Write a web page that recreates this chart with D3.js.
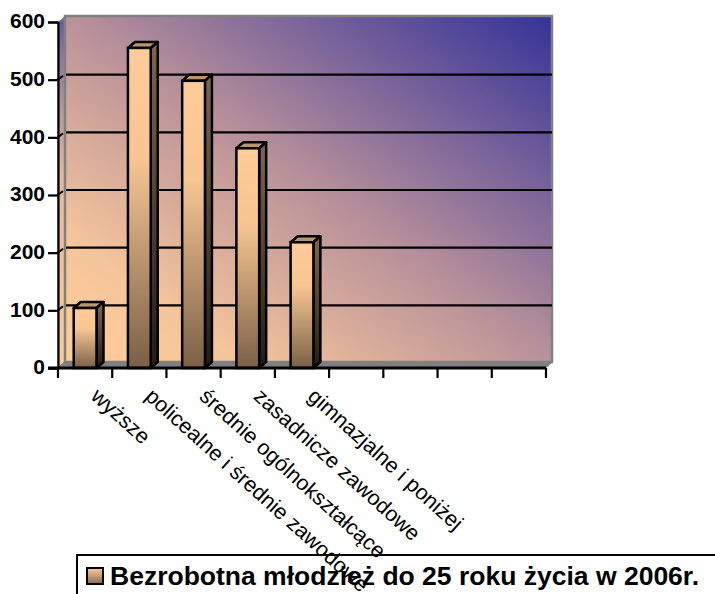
<!DOCTYPE html>
<html>
<head>
<meta charset="utf-8">
<script src="https://cdn.jsdelivr.net/npm/d3@7/dist/d3.min.js"></script>
<style>
	html, body { margin: 0; padding: 0; background: #fff; overflow: hidden; }
	text { font-family: "Liberation Sans", Arial, sans-serif; fill: #000; }
</style>
</head>
<body>
<script>
var categories = ['wyższe', 'policealne i średnie zawodowe', 'średnie ogólnokształcące',
	'zasadnicze zawodowe', 'gimnazjalne i poniżej', '', '', '', ''];
var values = [104, 555, 498, 381, 218];
var yTicks = [0, 100, 200, 300, 400, 500, 600];
var seriesName = 'Bezrobotna młodzież do 25 roku życia w 2006r.';

var width = 715,
	height = 594,
	depthX = 7,
	depthY = 6;

var x = d3.scaleBand().domain(d3.range(categories.length)).range([58, 546]).paddingInner(0.58).paddingOuter(0.29);
var step = (546 - 58) / categories.length;
var y = d3.scaleLinear().domain([0, 600]).range([368, 22]);

var svg = d3.select('body').append('svg')
	.attr('width', width)
	.attr('height', height);

var defs = svg.append('defs');

function gradient(id, x1, y1, x2, y2, stops) {
	var g = defs.append('linearGradient')
		.attr('id', id)
		.attr('x1', x1).attr('y1', y1)
		.attr('x2', x2).attr('y2', y2);
	stops.forEach(function (s) {
		g.append('stop').attr('offset', s[0]).attr('stop-color', s[1]);
	});
}

gradient('wall', 0, 1, 1, 0, [[0, '#ffcc99'], [0.18, '#f5c59b'], [0.5, '#b9929a'], [0.75, '#76619a'], [1, '#333399']]);
gradient('leftWall', 0, 1, 0, 0, [[0, '#ffcc99'], [0.55, '#e8b898'], [0.85, '#9a7f9b'], [1, '#6a5aa0']]);
gradient('barFront', 0, 0, 0, 1, [[0, '#ffcc99'], [0.35, '#f6c592'], [1, '#7a6047']]);
gradient('barSide', 0, 0, 0, 1, [[0, '#7f6650'], [1, '#241c14']]);
gradient('legendKey', 0, 0, 0, 1, [[0, '#ffcc99'], [1, '#8a6c50']]);

function pts(a) {
	return a.map(function (p) { return p.join(','); }).join(' ');
}

var x0 = 58, x1 = 546, yBase = y(0), yTop = y(600);

// back wall and side wall
svg.append('polygon')
	.attr('points', pts([[x0, yBase], [x0 + depthX, yBase - depthY], [x0 + depthX, yTop - depthY + 1], [x0, yTop + 1]]))
	.attr('fill', 'url(#leftWall)')
	.attr('stroke', '#808080')
	.attr('stroke-width', 1.5);

svg.append('rect')
	.attr('x', x0 + depthX)
	.attr('y', yTop - depthY)
	.attr('width', x1 - x0 - 1)
	.attr('height', yBase - yTop)
	.attr('fill', 'url(#wall)')
	.attr('stroke', '#808080')
	.attr('stroke-width', 2.5);

// floor
svg.append('polygon')
	.attr('points', pts([[x0, yBase], [x0 + depthX, yBase - depthY], [x1 + depthX, yBase - depthY], [x1, yBase]]))
	.attr('fill', '#808080');

// gridlines on the wall, with the short slant on the side wall
var grid = svg.append('g');
grid.selectAll('line.wall')
	.data(yTicks.slice(1, 6))
	.enter().append('line')
	.attr('class', 'wall')
	.attr('x1', x0 + depthX + 1)
	.attr('x2', x1 + depthX - 1)
	.attr('y1', function (d) { return y(d) - depthY + 1; })
	.attr('y2', function (d) { return y(d) - depthY + 1; })
	.attr('stroke', '#000')
	.attr('stroke-width', 2.2);

grid.selectAll('line.slant')
	.data(yTicks.slice(1, 6))
	.enter().append('line')
	.attr('class', 'slant')
	.attr('x1', x0)
	.attr('x2', x0 + depthX - 2)
	.attr('y1', function (d) { return y(d); })
	.attr('y2', function (d) { return y(d) - depthY + 2; })
	.attr('stroke', '#000')
	.attr('stroke-width', 2);

// bars
var bars = svg.append('g').selectAll('g')
	.data(values)
	.enter().append('g');

bars.append('polygon')
	.attr('points', function (d, i) {
		var l = x(i), r = l + x.bandwidth(), t = y(d);
		return pts([[l, t], [l + depthX, t - depthY], [r + depthX, t - depthY], [r, t]]);
	})
	.attr('fill', '#b8956c')
	.attr('stroke', '#000')
	.attr('stroke-width', 2.5)
	.attr('stroke-linejoin', 'round');

bars.append('polygon')
	.attr('points', function (d, i) {
		var r = x(i) + x.bandwidth(), t = y(d);
		return pts([[r, t], [r + depthX, t - depthY], [r + depthX, yBase - depthY], [r, yBase]]);
	})
	.attr('fill', 'url(#barSide)')
	.attr('stroke', '#000')
	.attr('stroke-width', 2.5)
	.attr('stroke-linejoin', 'round');

bars.append('rect')
	.attr('x', function (d, i) { return x(i); })
	.attr('y', function (d) { return y(d); })
	.attr('width', x.bandwidth())
	.attr('height', function (d) { return yBase - y(d); })
	.attr('fill', 'url(#barFront)')
	.attr('stroke', '#000')
	.attr('stroke-width', 2.5);

// axes
var axisY = svg.append('g').attr('transform', 'translate(' + x0 + ',0)')
	.call(d3.axisLeft(y).tickValues(yTicks).tickSize(10).tickPadding(3));
axisY.selectAll('line').attr('stroke', '#000').attr('stroke-width', 2.2);
axisY.select('.domain').attr('stroke', '#000').attr('stroke-width', 2.2);
axisY.selectAll('text')
	.attr('dy', '0.28em')
	.style('font-size', '21px')
	.style('font-weight', 'bold')
	.style('font-family', '"Liberation Sans", Arial, sans-serif');

svg.append('line')
	.attr('x1', x0 - 10).attr('x2', x1)
	.attr('y1', yBase).attr('y2', yBase)
	.attr('stroke', '#000').attr('stroke-width', 3);

svg.append('g').selectAll('line')
	.data(d3.range(categories.length + 1))
	.enter().append('line')
	.attr('x1', function (d) { return x0 + d * step; })
	.attr('x2', function (d) { return x0 + d * step; })
	.attr('y1', yBase)
	.attr('y2', yBase + 10)
	.attr('stroke', '#000')
	.attr('stroke-width', 2.2);

// category labels, a little under 45 degrees like the original
svg.append('g').selectAll('text')
	.data(categories)
	.enter().append('text')
	.attr('transform', function (d, i) {
		return 'translate(' + (x(i) + 16) + ',' + (yBase + 30) + ') rotate(42)';
	})
	.attr('font-size', 21.5)
	.text(function (d) { return d; });

// legend runs off the picture on the right and at the bottom
svg.append('rect')
	.attr('x', 77)
	.attr('y', 555)
	.attr('width', 660)
	.attr('height', 60)
	.attr('fill', 'none')
	.attr('stroke', '#000')
	.attr('stroke-width', 2);

svg.append('rect')
	.attr('x', 87)
	.attr('y', 568)
	.attr('width', 16)
	.attr('height', 16)
	.attr('fill', 'url(#legendKey)')
	.attr('stroke', '#000')
	.attr('stroke-width', 2);

svg.append('text')
	.attr('x', 110)
	.attr('y', 585)
	.attr('font-size', 26.5)
	.attr('font-weight', 'bold')
	.text(seriesName);
</script>
</body>
</html>
